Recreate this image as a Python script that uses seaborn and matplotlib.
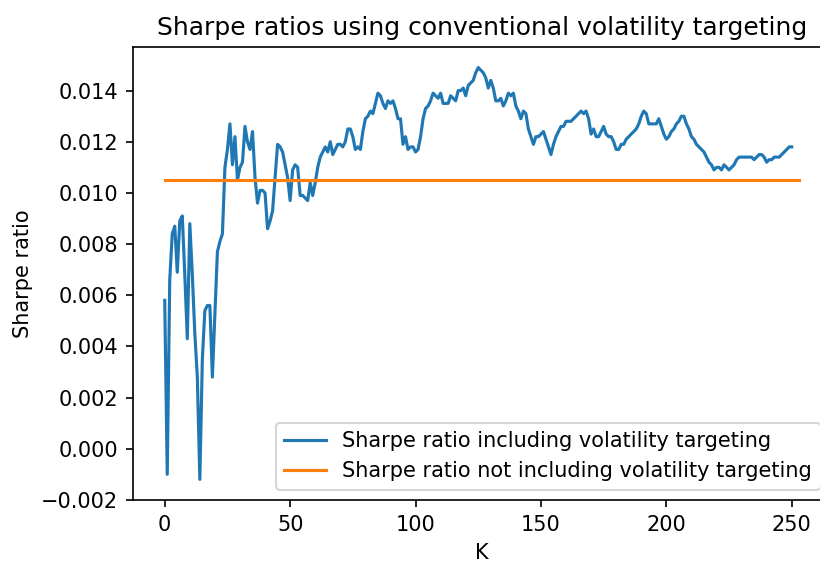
import numpy as np
import pandas as pd
import matplotlib
matplotlib.use("Agg")
import matplotlib.pyplot as plt
import seaborn as sns

# Sharpe ratio per look-back window K, with volatility targeting
k_values = list(range(0, 251))
sharpe_vol_target = [
    0.0058, -0.0010, 0.0066, 0.0084, 0.0087, 0.0069, 0.0089, 0.0091, 0.0068, 0.0043,
    0.0088, 0.0068, 0.0045, 0.0028, -0.0012, 0.0035, 0.0054, 0.0056, 0.0056, 0.0028,
    0.0052, 0.0077, 0.0081, 0.0084, 0.0110, 0.0117, 0.0127, 0.0111, 0.0122, 0.0105,
    0.0110, 0.0112, 0.0126, 0.0120, 0.0117, 0.0124, 0.0106, 0.0096, 0.0101, 0.0101,
    0.0100, 0.0086, 0.0089, 0.0093, 0.0106, 0.0119, 0.0118, 0.0116, 0.0111, 0.0106,
    0.0097, 0.0109, 0.0111, 0.0110, 0.0099, 0.0099, 0.0098, 0.0097, 0.0104, 0.0099,
    0.0104, 0.0110, 0.0114, 0.0116, 0.0118, 0.0116, 0.0120, 0.0115, 0.0117, 0.0119,
    0.0119, 0.0118, 0.0120, 0.0125, 0.0125, 0.0122, 0.0117, 0.0118, 0.0117, 0.0124,
    0.0129, 0.0130, 0.0132, 0.0131, 0.0135, 0.0139, 0.0138, 0.0135, 0.0133, 0.0136,
    0.0135, 0.0136, 0.0133, 0.0129, 0.0129, 0.0119, 0.0122, 0.0117, 0.0118, 0.0118,
    0.0116, 0.0117, 0.0122, 0.0129, 0.0133, 0.0134, 0.0136, 0.0139, 0.0138, 0.0137,
    0.0139, 0.0135, 0.0135, 0.0135, 0.0138, 0.0137, 0.0136, 0.0140, 0.0140, 0.0141,
    0.0138, 0.0142, 0.0143, 0.0144, 0.0147, 0.0149, 0.0148, 0.0147, 0.0145, 0.0141,
    0.0144, 0.0141, 0.0136, 0.0136, 0.0137, 0.0134, 0.0136, 0.0139, 0.0138, 0.0139,
    0.0134, 0.0132, 0.0129, 0.0132, 0.0131, 0.0125, 0.0122, 0.0119, 0.0122, 0.0122,
    0.0123, 0.0124, 0.0121, 0.0118, 0.0115, 0.0119, 0.0122, 0.0124, 0.0126, 0.0126,
    0.0128, 0.0128, 0.0128, 0.0129, 0.0130, 0.0131, 0.0132, 0.0131, 0.0132, 0.0129,
    0.0123, 0.0125, 0.0122, 0.0122, 0.0124, 0.0126, 0.0123, 0.0122, 0.0122, 0.0120,
    0.0117, 0.0117, 0.0119, 0.0119, 0.0121, 0.0122, 0.0123, 0.0124, 0.0125, 0.0127,
    0.0130, 0.0132, 0.0131, 0.0127, 0.0127, 0.0127, 0.0127, 0.0129, 0.0126, 0.0123,
    0.0121, 0.0122, 0.0124, 0.0125, 0.0127, 0.0128, 0.0130, 0.0130, 0.0127, 0.0125,
    0.0122, 0.0121, 0.0119, 0.0118, 0.0117, 0.0116, 0.0114, 0.0112, 0.0111, 0.0109,
    0.0110, 0.0110, 0.0109, 0.0111, 0.0110, 0.0109, 0.0110, 0.0111, 0.0113, 0.0114,
    0.0114, 0.0114, 0.0114, 0.0114, 0.0114, 0.0113, 0.0114, 0.0115, 0.0115, 0.0114,
    0.0112, 0.0113, 0.0113, 0.0114, 0.0114, 0.0114, 0.0115, 0.0116, 0.0117, 0.0118,
    0.0118,
]

# Baseline Sharpe ratio without volatility targeting
baseline_k = [0, 253]
baseline_sharpe = [0.01052, 0.01052]

label_with = "Sharpe ratio including volatility targeting"
label_without = "Sharpe ratio not including volatility targeting"

df_with = pd.DataFrame({"K": k_values, "sharpe": sharpe_vol_target})
df_without = pd.DataFrame({"K": baseline_k, "sharpe": baseline_sharpe})

dpi = 150
fig = plt.figure(figsize=(820 / dpi, 561 / dpi), dpi=dpi)
ax = fig.add_axes([133 / 820, 61 / 561, 698 / 820, 453 / 561])

sns.lineplot(data=df_with, x="K", y="sharpe", ax=ax, color="#1f77b4",
             linewidth=1.5, label=label_with)
sns.lineplot(data=df_without, x="K", y="sharpe", ax=ax, color="#ff7f0e",
             linewidth=1.5, label=label_without)

ax.set_xlabel("K")
ax.set_ylabel("Sharpe ratio")
ax.set_title("Sharpe ratios using conventional volatility targeting", fontsize=12)
ax.set_yticks(np.arange(-0.002, 0.0141, 0.002))
ax.legend(loc="lower right")

fig.savefig("out.png", dpi=dpi)
